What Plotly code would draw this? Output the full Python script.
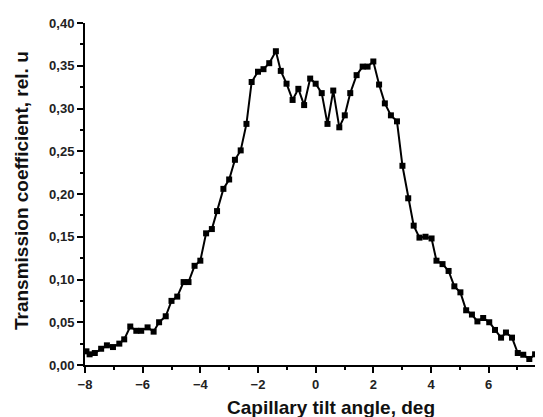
import plotly.graph_objects as go

angle_deg = [-7.95, -7.84, -7.66, -7.44, -7.24, -7.03, -6.81, -6.64, -6.43, -6.22,
             -6.05, -5.83, -5.62, -5.43, -5.2, -5.0, -4.8, -4.58, -4.41, -4.2,
             -4.0, -3.8, -3.6, -3.42, -3.2, -3.0, -2.8, -2.6, -2.4, -2.22,
             -2.0, -1.81, -1.61, -1.38, -1.21, -1.01, -0.8, -0.6, -0.4, -0.19,
             0.0, 0.21, 0.41, 0.61, 0.82, 1.01, 1.2, 1.42, 1.63, 1.8,
             2.0, 2.2, 2.4, 2.61, 2.82, 3.01, 3.21, 3.4, 3.6, 3.81,
             4.02, 4.19, 4.4, 4.61, 4.81, 5.02, 5.22, 5.42, 5.61, 5.81,
             6.02, 6.22, 6.43, 6.6, 6.81, 7.01, 7.2, 7.41, 7.61]

transmission = [0.016, 0.0125, 0.014, 0.019, 0.023, 0.021, 0.025, 0.030, 0.045, 0.040,
                0.040, 0.044, 0.039, 0.050, 0.057, 0.075, 0.080, 0.097, 0.097, 0.116,
                0.122, 0.154, 0.159, 0.180, 0.206, 0.217, 0.240, 0.251, 0.282, 0.331,
                0.343, 0.346, 0.353, 0.367, 0.344, 0.329, 0.310, 0.323, 0.304, 0.335,
                0.329, 0.318, 0.282, 0.321, 0.278, 0.292, 0.318, 0.339, 0.349, 0.349,
                0.355, 0.328, 0.306, 0.292, 0.285, 0.233, 0.195, 0.163, 0.149, 0.150,
                0.148, 0.122, 0.118, 0.110, 0.092, 0.085, 0.064, 0.059, 0.051, 0.055,
                0.050, 0.041, 0.032, 0.038, 0.032, 0.014, 0.012, 0.007, 0.0125]

x_ticks = [-8, -6, -4, -2, 0, 2, 4, 6]
y_ticks = [0.0, 0.05, 0.10, 0.15, 0.20, 0.25, 0.30, 0.35, 0.40]

x_title = "Capillary tilt angle, deg"
y_title = "Transmission coefficient, rel. u"

FONT = "Liberation Sans, Arial, sans-serif"

# the page body adds an 8px offset, so the figure is 8px smaller on each axis
W, H = 535, 409
ML, MR, MT, MB = 77, 1, 15, 52

fig = go.Figure()
fig.add_trace(go.Scatter(
    x=angle_deg, y=transmission, mode="lines+markers",
    line=dict(color="black", width=2),
    marker=dict(symbol="square", size=6, color="black"),
    showlegend=False,
))

pw = W - ML - MR
ph = H - MT - MB


def paper(px, py):
    return (px - ML) / pw, 1 - (py - MT) / ph


xt_x, xt_y = paper(322.5, 399)
yt_x, yt_y = paper(13.5, 182.5)

tick_font = dict(family=FONT, size=13, color="#222222", weight="bold")
title_font = dict(family=FONT, size=19, color="#111111", weight="bold")

fig.update_layout(
    width=W, height=H,
    margin=dict(l=ML, r=MR, t=MT, b=MB, autoexpand=False),
    plot_bgcolor="white", paper_bgcolor="white",
    separators=",.",
    font=dict(family=FONT, size=13, color="#222222", weight="bold"),
    xaxis=dict(
        range=[-8, 7.85], tickvals=x_ticks, ticks="outside", ticklen=6, tickwidth=2,
        tickcolor="black", showline=True, linecolor="black", linewidth=2,
        showgrid=False, zeroline=False, automargin=False, tickfont=tick_font,
        minor=dict(dtick=1, tick0=-8, ticks="outside", ticklen=3, tickwidth=2, tickcolor="black"),
    ),
    yaxis=dict(
        range=[0, 0.40], tickvals=y_ticks, tickformat=".2f", ticks="outside", ticklen=6,
        tickwidth=2, tickcolor="black", showline=True, linecolor="black", linewidth=2,
        showgrid=False, zeroline=False, automargin=False, tickfont=tick_font,
        minor=dict(dtick=0.025, tick0=0, ticks="outside", ticklen=3, tickwidth=2, tickcolor="black"),
    ),
    annotations=[
        dict(text=x_title, x=xt_x, y=xt_y, xref="paper", yref="paper", showarrow=False,
             xanchor="center", yanchor="middle", font=title_font),
        dict(text=y_title, x=yt_x, y=yt_y, xref="paper", yref="paper", textangle=-90,
             showarrow=False, xanchor="center", yanchor="middle", font=title_font),
    ],
)

fig.write_html("out.html")
